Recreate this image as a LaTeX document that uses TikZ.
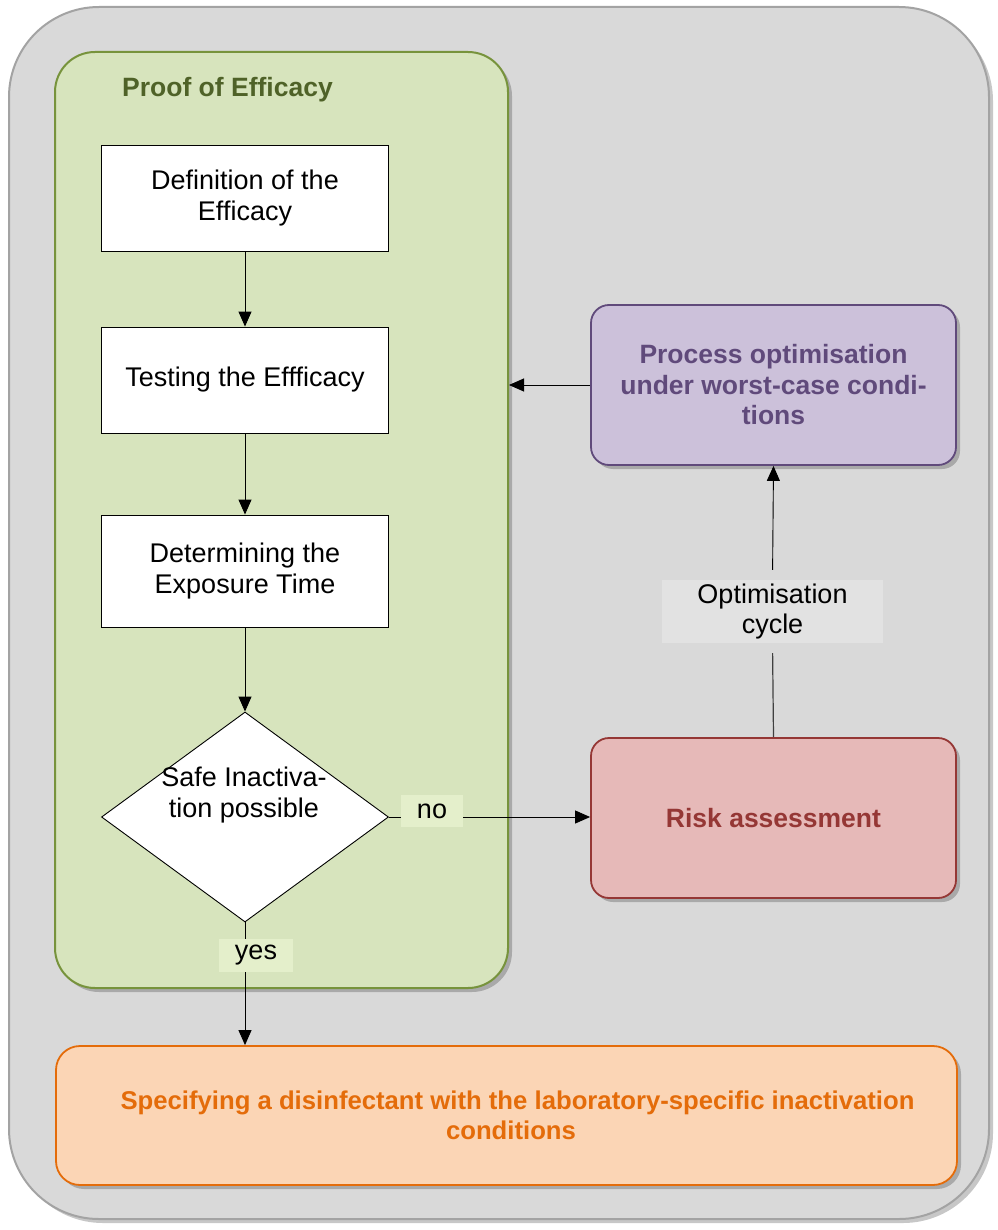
\documentclass[tikz,border=0pt]{standalone}
\usepackage{fontspec}
\setmainfont{Liberation Sans}
\usetikzlibrary{shapes.geometric,arrows.meta,shadows}

\definecolor{panelfill}{HTML}{D9D9D9}
\definecolor{paneledge}{HTML}{A3A3A3}
\definecolor{greenfill}{HTML}{D7E4BD}
\definecolor{greenedge}{HTML}{77933C}
\definecolor{greentext}{HTML}{4F6228}
\definecolor{tagfill}{HTML}{E4EFCB}
\definecolor{purplefill}{HTML}{CCC1DA}
\definecolor{purpleedge}{HTML}{604A7B}
\definecolor{redfill}{HTML}{E6B9B8}
\definecolor{rededge}{HTML}{953735}
\definecolor{orangefill}{HTML}{FBD5B5}
\definecolor{orangeedge}{HTML}{E46C0A}
\definecolor{cyclefill}{HTML}{E2E2E2}
\definecolor{cycleline}{HTML}{404040}

\begin{document}
\begin{tikzpicture}[x=1pt,y=-1pt,
  txt/.style={font=\fontsize{27}{30.5}\selectfont, align=center},
  softshadow/.style={drop shadow={shadow xshift=4pt, shadow yshift=-4pt, fill=black, opacity=0.22}},
  stepbox/.style={txt, draw=black, line width=0.9pt, fill=white,
    minimum width=287pt, minimum height=106pt, inner sep=0pt},
  decision/.style={diamond, draw=black, line width=0.9pt, fill=white,
    minimum width=287pt, minimum height=210pt, inner sep=0pt},
  colourbox/.style={txt, font=\fontsize{26.5}{30.5}\selectfont\bfseries,
    line width=1.8pt, rounded corners=18pt, inner sep=0pt, softshadow},
  tag/.style={txt, fill=tagfill, inner sep=0pt},
  arr/.style={line width=0.9pt, -{Triangle[length=15pt,width=13pt]}}
]
\useasboundingbox (0,0) rectangle (997,1230);

% outer panel and the green efficacy panel
\node (panel) [draw=paneledge, line width=2pt, fill=panelfill, rounded corners=90pt,
  minimum width=980pt, minimum height=1212pt, softshadow] at (499,613) {};
\node (proof) [draw=greenedge, line width=2pt, fill=greenfill, rounded corners=40pt,
  minimum width=453pt, minimum height=936pt, softshadow] at (281.5,520) {};
\node (title) [anchor=base west, inner sep=0pt, text=greentext,
  font=\fontsize{26.5}{30.5}\selectfont\bfseries] at (122,97) {Proof of Efficacy};

% steps inside the efficacy panel
\node (def)  [stepbox] at (245,198) {Definition of the\\Efficacy};
\node (test) [stepbox] at (245,380) {Testing the Effficacy};
\node (expo) [stepbox, minimum height=112pt] at (245,571) {Determining the\\Exposure Time};
\node (dec)  [decision] at (245,817) {};
\node (dectext) [txt, inner sep=0pt] at (244,795) {Safe Inactiva-\\tion possible};

% right-hand boxes and the final outcome
\node (proc) [colourbox, draw=purpleedge, fill=purplefill, text=purpleedge,
  minimum width=365pt, minimum height=160pt] at (773.5,385)
  {Process optimisation\\under worst-case condi-\\tions};
\node (risk) [colourbox, draw=rededge, fill=redfill, text=rededge,
  minimum width=365pt, minimum height=160pt] at (773.5,818) {Risk assessment};
\node (spec) [colourbox, draw=orangeedge, fill=orangefill, text=orangeedge,
  font=\fontsize{25.7}{30.5}\selectfont\bfseries,
  rounded corners=24pt, minimum width=901pt, minimum height=139pt] at (506.5,1115.5)
  {\hspace*{22pt}Specifying a disinfectant with the laboratory-specific inactivation\\\hspace*{9pt}conditions};

% connectors
\draw[arr] (def.south) -- (test.north);
\draw[arr] (test.south) -- (expo.north);
\draw[arr] (expo.south) -- (dec.north);
\draw[arr] (dec.east) -- (dec.east -| risk.west);
\draw[arr] (dec.south) -- (dec.south |- spec.north);
\draw[arr] (proc.west) -- (proc.west -| proof.east);

\node (no)  [tag, minimum width=62pt, minimum height=32pt] at (432,811) {no};
\node (yes) [tag, minimum width=74pt, minimum height=33pt] at (256,955) {yes};

\node (cycle) [txt, fill=cyclefill, inner sep=0pt, minimum width=221pt, minimum height=63pt]
  at (772.5,611.5) {Optimisation\\cycle};
\draw[line width=1.2pt, draw=cycleline, shorten >=10pt] (risk.north) -- (cycle.south);
\draw[arr, shorten <=10pt] (cycle.north) -- (proc.south);
\end{tikzpicture}
\end{document}
